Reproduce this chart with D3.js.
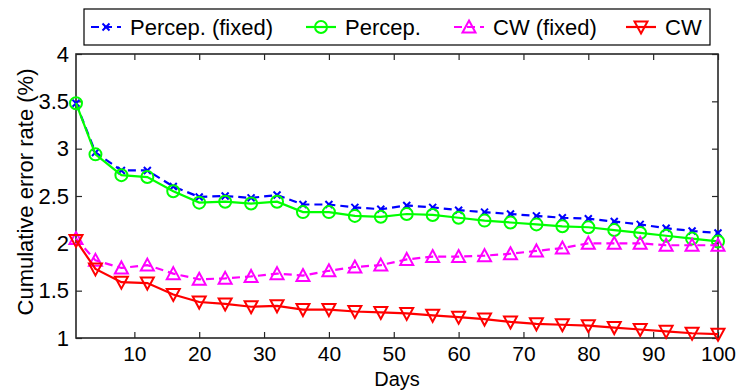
<!DOCTYPE html>
<html>
<head>
<meta charset="utf-8">
<script src="https://cdn.jsdelivr.net/npm/d3@7"></script>
<style>
  body { margin: 0; background: #fff; }
  svg { display: block; font-family: "Liberation Sans", Arial, Helvetica, sans-serif; }
  .axis text { font-size: 22px; fill: #000; }
  .axis.xb text { font-size: 21px; }
</style>
</head>
<body>
<div id="chart"></div>
<script>
const days = [1, 4, 8, 12, 16, 20, 24, 28, 32, 36, 40, 44, 48, 52, 56, 60, 64, 68, 72, 76, 80, 84, 88, 92, 96, 100];
const percepFixed = [3.48, 2.96, 2.77, 2.77, 2.60, 2.49, 2.50, 2.48, 2.51, 2.41, 2.41, 2.38, 2.36, 2.40, 2.38, 2.35, 2.33, 2.31, 2.29, 2.27, 2.26, 2.23, 2.20, 2.16, 2.13, 2.11];
const percep = [3.48, 2.94, 2.72, 2.70, 2.55, 2.43, 2.44, 2.42, 2.44, 2.33, 2.33, 2.29, 2.28, 2.31, 2.30, 2.27, 2.24, 2.22, 2.20, 2.18, 2.17, 2.14, 2.11, 2.08, 2.05, 2.02];
const cwFixed = [2.05, 1.82, 1.74, 1.77, 1.68, 1.62, 1.63, 1.65, 1.68, 1.66, 1.71, 1.75, 1.77, 1.83, 1.86, 1.86, 1.87, 1.89, 1.92, 1.95, 2.00, 2.00, 2.00, 1.98, 1.98, 1.98];
const cw = [2.03, 1.73, 1.59, 1.58, 1.46, 1.38, 1.36, 1.33, 1.34, 1.30, 1.30, 1.28, 1.27, 1.26, 1.24, 1.22, 1.20, 1.17, 1.15, 1.14, 1.13, 1.11, 1.09, 1.07, 1.05, 1.04];
const xTicks = [10, 20, 30, 40, 50, 60, 70, 80, 90, 100];
const yTicks = [1, 1.5, 2, 2.5, 3, 3.5, 4];

const series = [
  { name: 'Percep. (fixed)', values: percepFixed, color: '#0000ff', dash: '8,5', marker: 'x' },
  { name: 'Percep.', values: percep, color: '#00ff00', dash: null, marker: 'o' },
  { name: 'CW (fixed)', values: cwFixed, color: '#ff00ff', dash: '8,5', marker: '^' },
  { name: 'CW', values: cw, color: '#ff0000', dash: null, marker: 'v' }
];

const W = 741, H = 390;
const margin = { top: 54, right: 23, bottom: 52, left: 76 };
const width = W - margin.left - margin.right;
const height = H - margin.top - margin.bottom;

const svg = d3.select('#chart').append('svg').attr('width', W).attr('height', H);
const g = svg.append('g').attr('transform', `translate(${margin.left},${margin.top})`);

const x = d3.scaleLinear().domain([1, 100]).range([0, width]);
const y = d3.scaleLinear().domain([1, 4]).range([height, 0]);

// axes (MATLAB style box, inward ticks)
const fmt = d => d3.format('~g')(d);
g.append('g').attr('class', 'axis xb').attr('transform', `translate(0,${height})`)
  .call(d3.axisBottom(x).tickValues(xTicks).tickSizeInner(-6).tickSizeOuter(0).tickPadding(8).tickFormat(fmt));
g.append('g').attr('class', 'axis')
  .call(d3.axisTop(x).tickValues(xTicks).tickSizeInner(-6).tickSizeOuter(0).tickFormat(''));
g.append('g').attr('class', 'axis')
  .call(d3.axisLeft(y).tickValues(yTicks).tickSizeInner(-6).tickSizeOuter(0).tickPadding(7).tickFormat(fmt));
g.append('g').attr('class', 'axis').attr('transform', `translate(${width},0)`)
  .call(d3.axisRight(y).tickValues(yTicks).tickSizeInner(-6).tickSizeOuter(0).tickFormat(''));
g.selectAll('.axis path').remove();
g.selectAll('.axis line').attr('stroke', '#262626').attr('stroke-width', 1.2);
g.append('rect').attr('width', width).attr('height', height)
  .attr('fill', 'none').attr('stroke', '#262626').attr('stroke-width', 1.6);

function drawMarker(sel, type, color) {
  if (type === 'o') {
    sel.append('circle').attr('r', 6);
  } else if (type === 'x') {
    sel.append('path').attr('d', 'M-3.5,-3.5L3.5,3.5M-3.5,3.5L3.5,-3.5');
  } else if (type === '^') {
    sel.append('path').attr('d', 'M0,-6.5L6.5,5.5L-6.5,5.5Z');
  } else {
    sel.append('path').attr('d', 'M0,6.5L6.5,-5.5L-6.5,-5.5Z');
  }
  sel.selectAll('circle,path').attr('fill', 'none').attr('stroke', color).attr('stroke-width', 2);
}

const line = d3.line().x((d, i) => x(days[i])).y(d => y(d));

series.forEach(s => {
  g.append('path').datum(s.values)
    .attr('d', line)
    .attr('fill', 'none')
    .attr('stroke', s.color)
    .attr('stroke-width', 2.2)
    .attr('stroke-dasharray', s.dash);
  g.selectAll(null).data(s.values).join('g')
    .attr('transform', (d, i) => `translate(${x(days[i])},${y(d)})`)
    .each(function () { drawMarker(d3.select(this), s.marker, s.color); });
});

// axis labels
svg.append('text')
  .attr('x', margin.left + width / 2).attr('y', 385.5)
  .attr('text-anchor', 'middle').attr('font-size', 20).text('Days');
svg.append('text')
  .attr('transform', `translate(33,${margin.top + height / 2 - 4}) rotate(-90)`)
  .attr('text-anchor', 'middle').attr('font-size', 22).text('Cumulative error rate (%)');

// legend
const legend = svg.append('g');
legend.append('rect').attr('x', 84).attr('y', 9).attr('width', 626).attr('height', 36)
  .attr('fill', '#fff').attr('stroke', '#000').attr('stroke-width', 1.2);
const legendX = [91, 306, 454, 626];
series.forEach((s, i) => {
  const lg = legend.append('g').attr('transform', `translate(${legendX[i]},27)`);
  lg.append('line').attr('x1', 0).attr('x2', 30)
    .attr('stroke', s.color).attr('stroke-width', 2.2).attr('stroke-dasharray', s.dash);
  const m = lg.append('g').attr('transform', 'translate(15,0)');
  drawMarker(m, s.marker, s.color);
  lg.append('text').attr('x', 39).attr('y', 8).attr('font-size', 22).text(s.name);
});
</script>
</body>
</html>
